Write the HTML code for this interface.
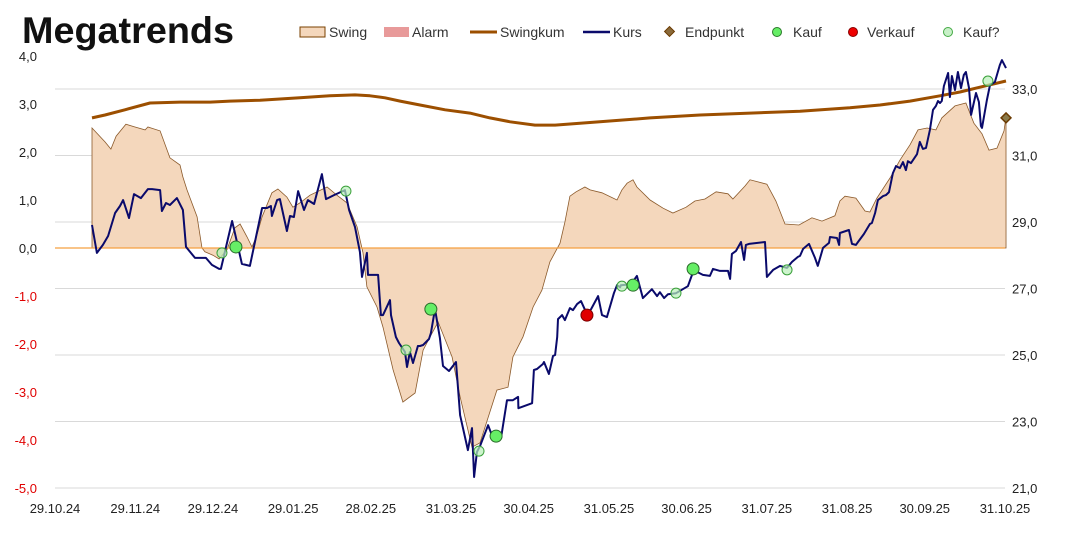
<!DOCTYPE html>
<html><head><meta charset="utf-8"><style>
body{margin:0;background:#fff;}
svg text{font-family:"Liberation Sans",sans-serif;}
</style></head><body>
<svg id="chart" width="1067" height="555" xmlns="http://www.w3.org/2000/svg">
<text x="22" y="43" font-size="37" font-weight="bold" fill="#111" textLength="212" lengthAdjust="spacingAndGlyphs">Megatrends</text>
<g id="legend" font-size="14" fill="#333">
 <g><rect x="300" y="27" width="25" height="10" fill="#f4d7bc" stroke="#7a4000"/><text x="329" y="37">Swing</text></g>
 <g><rect x="384" y="27" width="25" height="10" fill="#e89a9a"/><text x="412" y="37">Alarm</text></g>
 <g><line x1="470" y1="32" x2="497" y2="32" stroke="#9c4f00" stroke-width="3"/><text x="500" y="37">Swingkum</text></g>
 <g><line x1="583" y1="32" x2="610" y2="32" stroke="#0a0a6b" stroke-width="2.5"/><text x="613" y="37">Kurs</text></g>
 <g><rect x="666" y="28" width="7" height="7" fill="#8a6a3a" stroke="#6b3a00" transform="rotate(45 669.5 31.5)"/><text x="685" y="37">Endpunkt</text></g>
 <g><circle cx="777" cy="32" r="4.5" fill="#66ee66" stroke="#2a7a2a"/><text x="793" y="37">Kauf</text></g>
 <g><circle cx="853" cy="32" r="4.5" fill="#e00" stroke="#800"/><text x="867" y="37">Verkauf</text></g>
 <g><circle cx="948" cy="32" r="4.5" fill="#c8f0c8" stroke="#44aa44"/><text x="963" y="37">Kauf?</text></g>
</g>
<g id="grid"></g><g id="swingG"></g><g id="lines"></g><g id="marks"></g><g id="axes"></g>
</svg>
<script>
const NS="http://www.w3.org/2000/svg";
const xLabels=["29.10.24","29.11.24","29.12.24","29.01.25","28.02.25","31.03.25","30.04.25","31.05.25","30.06.25","31.07.25","31.08.25","30.09.25","31.10.25"];
const xLabelDays=[0,31,61,92,122,153,183,214,244,275,306,336,367];
const leftTicks=[4,3,2,1,0,-1,-2,-3,-4,-5];
const rightTicks=[33,31,29,27,25,23,21];
const swingDays=[14.3,19.3,21.6,23.6,27.4,30.9,34.8,35.9,40.6,44.4,48.3,49.4,51.0,54.9,56.8,57.9,61.0,63.4,66.4,69.5,71.5,74.2,76.1,78.0,80.0,83.8,86.1,89.6,91.9,94.6,98.5,105.1,108.9,112.8,116.7,119.0,120.5,124.4,126.7,130.6,134.4,139.1,142.2,144.9,148.0,153.4,156.5,161.1,164.2,170.7,175.0,176.9,180.8,184.7,188.1,191.2,195.1,197.0,198.9,201.3,204.7,206.7,211.3,217.1,219.0,221.0,223.3,224.8,229.9,234.9,238.7,243.8,247.2,251.1,255.4,260.0,261.9,266.5,268.5,275.0,278.5,282.0,287.4,292.4,296.3,301.3,303.2,305.2,309.4,312.9,314.8,317.5,322.6,326.4,330.3,333.4,336.9,340.3,342.6,347.7,351.9,355.0,358.1,360.8,363.9,366.6,367.4];
const swingVals=[2.50,2.21,2.06,2.33,2.58,2.52,2.46,2.52,2.44,1.88,1.73,1.48,1.21,0.65,0.00,-0.08,-0.15,-0.23,-0.04,0.42,0.50,0.23,0.02,0.27,0.65,1.15,1.23,1.06,0.85,0.94,1.10,1.27,1.10,0.94,0.44,-0.10,-0.81,-1.23,-1.65,-2.54,-3.21,-3.02,-2.13,-1.85,-1.54,-2.27,-3.10,-4.15,-4.06,-2.96,-2.90,-2.27,-1.85,-1.23,-0.88,-0.29,0.10,0.54,1.08,1.17,1.27,1.21,1.15,1.00,1.21,1.35,1.42,1.27,1.00,0.83,0.73,0.85,0.98,1.02,1.17,1.13,1.02,1.29,1.42,1.33,0.98,0.50,0.48,0.63,0.56,0.67,0.98,1.08,1.04,0.77,0.75,1.04,1.46,1.83,2.15,2.46,2.50,2.46,2.71,2.96,3.02,2.60,2.38,2.04,2.08,2.44,2.73];
const kumDays=[14.3,19.3,27.0,36.7,48.3,59.9,67.6,79.2,94.6,106.2,115.9,121.7,127.5,133.3,141.0,150.7,160.3,168.0,175.8,185.4,193.2,210.5,229.9,249.2,268.5,287.8,307.1,318.7,330.3,341.9,349.6,357.3,367.4];
const kumVals=[2.71,2.77,2.88,3.02,3.04,3.04,3.06,3.08,3.13,3.17,3.19,3.17,3.13,3.06,2.98,2.88,2.81,2.71,2.63,2.56,2.56,2.63,2.71,2.77,2.81,2.85,2.92,2.98,3.06,3.17,3.25,3.35,3.48];
const kursDays=[14.3,16.2,18.5,20.5,23.2,25.1,26.3,28.6,30.5,33.2,35.9,37.5,40.6,41.3,42.9,44.4,47.1,49.4,50.6,54.1,57.2,58.3,60.6,63.4,64.1,68.4,69.5,72.2,75.3,80.0,81.9,83.4,83.8,85.8,86.9,89.6,90.8,92.3,93.9,96.2,97.7,100.1,103.1,104.7,107.8,112.0,113.6,115.9,117.8,118.6,120.5,120.9,124.8,125.9,126.7,129.4,129.8,131.7,132.9,135.2,136.0,137.1,138.3,140.2,141.0,142.2,144.5,145.2,146.8,148.7,149.9,152.2,154.9,156.5,159.5,161.1,161.9,163.0,164.2,167.3,169.2,172.3,174.6,176.9,178.9,179.0,184.3,185.0,186.2,188.5,188.9,190.8,192.4,193.2,194.0,194.3,195.9,197.0,198.9,200.1,201.7,203.2,205.5,207.1,209.8,211.3,213.2,215.9,217.1,218.3,218.6,222.5,224.8,227.1,230.6,232.6,233.7,235.3,236.8,239.9,244.5,246.1,248.0,250.3,253.0,254.2,256.9,260.0,260.8,261.5,263.1,265.0,266.2,266.9,268.1,274.3,275.0,277.4,280.1,282.8,284.7,287.0,287.8,289.0,291.3,293.6,294.7,296.7,299.0,299.4,302.1,302.9,303.2,306.7,307.9,309.4,310.2,312.5,314.8,315.6,316.8,317.9,319.9,321.0,322.2,323.7,324.9,326.4,327.6,328.7,329.5,330.7,333.0,334.1,335.3,336.5,338.0,339.2,340.3,341.1,341.9,342.6,343.4,345.0,345.7,346.5,347.7,348.8,350.0,351.1,351.9,353.1,353.9,355.8,356.9,357.7,358.1,360.0,361.2,363.1,365.0,365.8,367.4];
const kursVals=[28.91,28.07,28.31,28.58,29.27,29.48,29.66,29.12,29.84,29.72,29.99,29.99,29.96,29.33,29.57,29.51,29.72,29.36,28.25,27.92,27.92,27.92,27.71,27.59,27.59,29.03,28.67,27.74,27.68,29.42,29.42,29.48,29.18,29.66,29.69,28.73,29.18,29.15,29.93,29.36,29.66,29.54,30.44,29.69,29.81,29.96,29.36,28.85,28.10,27.35,28.07,27.41,27.41,26.20,26.20,26.65,26.20,25.54,25.36,25.09,24.64,25.09,24.76,25.27,25.27,25.30,25.48,25.66,26.38,25.51,24.67,24.52,24.79,23.19,22.14,22.80,21.33,22.08,22.26,22.89,22.50,22.50,23.64,23.64,23.74,23.40,23.55,24.55,24.58,24.73,24.79,24.43,24.97,25.00,25.54,26.08,26.20,26.05,26.41,26.35,26.53,26.62,26.23,26.38,26.77,26.20,26.14,26.86,27.10,27.04,27.10,27.13,27.38,26.71,26.98,26.77,26.89,26.71,26.83,26.86,27.07,27.41,27.50,27.41,27.38,27.59,27.53,27.53,27.29,28.04,28.13,28.40,27.86,28.31,28.34,28.40,27.35,27.56,27.68,27.62,27.80,27.95,27.98,28.19,28.34,27.92,27.68,28.22,28.37,28.55,28.52,28.31,28.67,28.76,28.34,28.31,28.40,28.64,28.94,28.97,29.27,29.66,29.78,29.81,29.90,30.47,30.68,30.62,30.80,30.56,30.83,30.77,31.04,31.41,31.20,31.23,31.77,32.37,32.49,32.64,32.58,32.64,33.09,33.48,32.76,33.39,32.97,33.51,33.03,33.42,33.51,33.03,32.22,32.88,32.61,31.89,31.83,32.67,33.12,33.21,33.72,33.87,33.63];
const kaufDays=[69.9,145.2,170.4,223.3,246.5];
const kaufVals=[28.25,26.38,22.56,27.10,27.59];
const kaufQDays=[64.5,112.4,135.6,163.8,219.0,239.9,282.8,360.4];
const kaufQVals=[28.07,29.93,25.15,22.11,27.07,26.86,27.56,33.24];
const verkaufDays=[205.5];
const verkaufVals=[26.20];
const endDays=[367.4];
const endVals=[2.71];

const X0=55,X1=1005,D=367;
const x=d=>X0+d*(X1-X0)/D;
const yL=v=>248-v*48;
const yR=v=>89+(33-v)*399/12;
function mk(tag,attrs,parent){const e=document.createElementNS(NS,tag);for(const k in attrs)e.setAttribute(k,attrs[k]);parent.appendChild(e);return e;}
const G=id=>document.getElementById(id);

rightTicks.forEach(t=>{
 const l=mk('line',{x1:55,x2:1005,y1:yR(t),y2:yR(t),stroke:'#d9d9d9','stroke-width':1},G('grid'));
 
 
 const tx=mk('text',{x:1012,y:yR(t)+5,'font-size':13,fill:'#222'},G('axes'));
 tx.textContent=t.toFixed(1).replace('.',',');
 
 
});
leftTicks.forEach(t=>{
 const tx=mk('text',{x:37,y:yL(t)+5,'font-size':13,fill:t<0?'#e00000':'#222','text-anchor':'end'},G('axes'));
 tx.textContent=t.toFixed(1).replace('.',',');
 
 
});
xLabels.forEach((s,i)=>{
 const tx=mk('text',{x:x(xLabelDays[i]),y:513,'font-size':13,fill:'#222','text-anchor':'middle'},G('axes'));
 tx.textContent=s;
 
 
});
let p='M'+x(swingDays[0])+','+yL(0);
swingDays.forEach((d,i)=>{p+=' L'+x(d).toFixed(1)+','+yL(swingVals[i]).toFixed(1);});
p+=' L'+x(swingDays[swingDays.length-1])+','+yL(0)+' Z';
const area=mk('path',{d:p,fill:'#f4d7bc',stroke:'#8b5a2b','stroke-width':0.8},G('swingG'));


const zl=mk('line',{x1:55,x2:1005,y1:yL(0),y2:yL(0),stroke:'#f5a040','stroke-width':1.2},G('swingG'));


function line(days,vals,yf,color,w,name){
 const d=days.map((dd,i)=>(i?'L':'M')+x(dd).toFixed(1)+','+yf(vals[i]).toFixed(1)).join(' ');
 const e=mk('path',{d:d,fill:'none',stroke:color,'stroke-width':w,'stroke-linejoin':'round'},G('lines'));
 
 
}
line(kumDays,kumVals,yL,'#9c4f00',3,'swingkum-line');
line(kursDays,kursVals,yR,'#0a0a6b',2,'kurs-line');
function dots(days,vals,r,fill,stroke,name,op){
 days.forEach((d,i)=>{
  const c=mk('circle',{cx:x(d),cy:yR(vals[i]),r:r,fill:fill,stroke:stroke,'stroke-width':1,'fill-opacity':op},G('marks'));
  
  
 });
}
dots(kaufQDays,kaufQVals,5,'#b8f0b8','#3aa03a','kauf-question-marker',0.7);
dots(kaufDays,kaufVals,6,'#66ee66','#2a6a2a','kauf-marker',1);
dots(verkaufDays,verkaufVals,6,'#e00000','#700','verkauf-marker',1);
endDays.forEach((d,i)=>{
 const cx=x(d),cy=yL(endVals[i]);
 const e=mk('rect',{x:cx-3.5,y:cy-3.5,width:7,height:7,fill:'#8a7a4a',stroke:'#6b3a00','stroke-width':1.5,transform:`rotate(45 ${cx} ${cy})`},G('marks'));
 
 
});
</script>
</body></html>
